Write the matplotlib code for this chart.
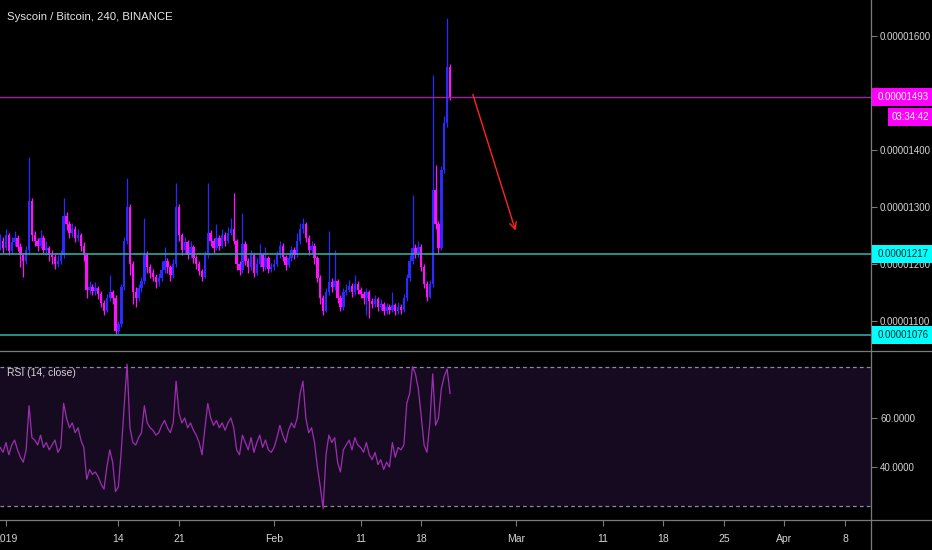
import matplotlib
matplotlib.use('Agg')
import matplotlib.pyplot as plt
import matplotlib.dates as mdates
from matplotlib.lines import Line2D
from matplotlib.patches import Rectangle
from matplotlib.transforms import blended_transform_factory
from matplotlib.ticker import FuncFormatter, FixedLocator
import numpy as np
import pandas as pd

plt.rcParams['font.family'] = ['Liberation Sans', 'DejaVu Sans']

# ~~~ data: 8h candles, prices in satoshi (1e-8 BTC) ~~~
candle_start = '2018-12-31 08:00'
first_open = 1232
closes = [1240, 1228, 1250, 1222, 1238, 1245, 1230, 1215, 1205, 1225,
          1310, 1250,
          1240, 1232, 1245, 1225, 1228, 1215, 1212, 1200, 1205, 1215,
          1285, 1270, 1255, 1262, 1245, 1250, 1232, 1215,
          1155, 1160, 1152, 1158, 1148, 1132, 1118, 1140, 1150, 1140,
          1082, 1095, 1160, 1240, 1300,
          1200, 1150, 1140, 1158, 1170,
          1215, 1195, 1185, 1178, 1168, 1175,
          1190, 1205, 1195, 1180, 1200,
          1300, 1250, 1225, 1238, 1215, 1230,
          1210, 1200, 1188, 1178, 1215, 1255,
          1240, 1228, 1245, 1232, 1250, 1240, 1255, 1262,
          1240, 1200, 1190, 1235, 1205, 1195, 1215,
          1185, 1200, 1215, 1195, 1210,
          1192, 1195, 1200, 1215, 1232, 1212, 1198,
          1210, 1225, 1215, 1240, 1262, 1270,
          1245, 1225, 1232, 1210,
          1175, 1140, 1118,
          1150, 1168, 1160, 1170, 1140, 1125, 1150,
          1155, 1162, 1150, 1165, 1155, 1148, 1140, 1150, 1135, 1130,
          1138, 1125, 1130, 1118, 1125, 1120, 1128, 1118, 1125, 1120,
          1140, 1175, 1205, 1228, 1220, 1230, 1195, 1165, 1142,
          1165, 1330, 1270, 1228, 1365, 1447, 1545, 1493]
highs = [1252, 1248, 1262, 1255, 1248, 1258, 1250, 1236, 1220, 1232,
         1388, 1315,
         1258, 1246, 1260, 1250, 1240, 1232, 1225, 1218, 1215, 1225,
         1316, 1292, 1275, 1272, 1266, 1262, 1255, 1238,
         1220, 1170, 1165, 1168, 1162, 1152, 1136, 1148, 1180, 1155,
         1145, 1100, 1165, 1248, 1351,
         1305, 1205, 1160, 1165, 1178,
         1280, 1222, 1200, 1192, 1182, 1185,
         1205, 1230, 1210, 1198, 1208,
         1342, 1305, 1255, 1248, 1242, 1240,
         1234, 1215, 1205, 1192, 1222, 1342,
         1260, 1245, 1270, 1250, 1262, 1256, 1265, 1280,
         1325, 1244, 1205, 1290, 1240, 1210, 1225,
         1220, 1210, 1235, 1220, 1230,
         1214, 1202, 1208, 1222, 1240, 1236, 1216,
         1218, 1232, 1230, 1255, 1272, 1280,
         1274, 1250, 1240, 1236,
         1214, 1180, 1145,
         1158, 1258, 1175, 1225, 1174, 1145, 1158,
         1165, 1172, 1166, 1180, 1170, 1160, 1152, 1158, 1154, 1140,
         1146, 1142, 1138, 1134, 1132, 1130, 1150, 1132, 1134, 1130,
         1148, 1182, 1215, 1321, 1235, 1240, 1235, 1200, 1170,
         1172, 1532, 1374, 1275, 1372, 1460, 1632, 1550]
lows = [1225, 1220, 1224, 1215, 1218, 1232, 1222, 1195, 1178, 1200,
        1220, 1240,
        1232, 1222, 1228, 1218, 1215, 1205, 1200, 1192, 1195, 1200,
        1210, 1260, 1245, 1248, 1238, 1240, 1222, 1205,
        1140, 1148, 1145, 1146, 1138, 1125, 1110, 1115, 1135, 1130,
        1076, 1078, 1090, 1155, 1235,
        1180, 1130, 1125, 1135, 1150,
        1165, 1185, 1175, 1170, 1158, 1162,
        1170, 1185, 1185, 1170, 1175,
        1195, 1240, 1215, 1220, 1208, 1210,
        1202, 1192, 1180, 1170, 1175, 1210,
        1232, 1220, 1224, 1225, 1228, 1232, 1236, 1250,
        1235, 1190, 1180, 1185, 1198, 1185, 1190,
        1178, 1180, 1195, 1188, 1190,
        1185, 1186, 1190, 1196, 1210, 1205, 1190,
        1194, 1205, 1208, 1212, 1235, 1255,
        1238, 1215, 1218, 1200,
        1168, 1130, 1110,
        1115, 1145, 1150, 1155, 1132, 1118, 1120,
        1145, 1150, 1142, 1146, 1148, 1140, 1130, 1110, 1105, 1122,
        1125, 1118, 1120, 1110, 1112, 1112, 1115, 1110, 1112, 1112,
        1115, 1135, 1170, 1200, 1210, 1212, 1188, 1158, 1135,
        1140, 1160, 1262, 1218, 1225, 1360, 1440, 1488]
rsi = [48, 46, 50, 45, 49, 51, 47, 44, 42, 47,
       65, 52,
       51, 49, 53, 48, 50, 47, 49, 51, 46, 48,
       66, 60, 56, 58, 54, 56, 51, 48,
       35, 39, 37, 38, 36, 33, 31, 40, 47, 42,
       30, 32, 47, 65, 82,
       56, 50, 49, 52, 54,
       65, 58, 56, 55, 53, 54,
       57, 59, 56, 54, 58,
       75, 62, 58, 60, 56, 58,
       55, 53, 50, 45, 56, 66,
       60, 57, 59, 56, 58, 55, 58, 60,
       56, 47, 45, 53, 50, 47, 52,
       46, 50, 53, 48, 51,
       47, 46, 48, 52, 57, 53, 50,
       55, 58, 56, 60, 70, 75,
       60, 54, 56, 50,
       40, 32, 23,
       45, 53, 50, 52, 42, 38, 47,
       49, 51, 47, 52, 49, 48, 46, 50, 45, 43,
       46, 41, 43, 39, 42, 40, 50, 44, 48, 47,
       49, 66, 70, 81, 78, 72, 61, 49, 46,
       58, 78, 57, 60, 72, 77, 80, 70]

level_top = 1493
level_mid = 1217
level_low = 1076
countdown = '03:34:42'
price_ticks = [1100, 1200, 1300, 1400, 1600]
rsi_ticks = [40, 60]
rsi_bands = [24, 81]

xtick_dates = ['2019-01-01', '2019-01-14', '2019-01-21', '2019-02-01', '2019-02-11',
               '2019-02-18', '2019-03-01', '2019-03-11', '2019-03-18', '2019-03-25',
               '2019-04-01', '2019-04-08']
xtick_labels = ['2019', '14', '21', 'Feb', '11', '18', 'Mar', '11', '18', '25', 'Apr', '8']

arrow_start = ('2019-02-23 21:00', 1502)
arrow_end = ('2019-03-01 00:00', 1254)

# ~~~ style ~~~
UP = '#2b2bff'
DOWN = '#ff10ff'
GRID = '#7a7a7a'
TXT = '#d4d4d4'
SCALE_FS = 7
W, H = 932, 550

fig = plt.figure(figsize=(W / 100, H / 100), dpi=100, facecolor='black')
ax_p = fig.add_axes([0, 198 / H, 871 / W, 352 / H], facecolor='black')
ax_r = fig.add_axes([0, 30 / H, 871 / W, 165 / H], facecolor='black', sharex=ax_p)

t = mdates.date2num(pd.date_range(candle_start, periods=len(closes), freq='8h'))
c = np.array(closes, dtype=float)
o = np.array([first_open] + closes[:-1], dtype=float)
up = c >= o
cols = np.where(up, UP, DOWN)

ax_p.vlines(t, lows, highs, colors=cols, lw=0.9)
ax_p.bar(t, np.maximum(np.abs(c - o), 2), bottom=np.minimum(o, c), width=0.28,
         color=cols, linewidth=0)

ax_p.axhline(level_top, color='#a0209f', lw=1)
ax_p.axhline(level_mid, color='#2ea89c', lw=1.2)
ax_p.axhline(level_low, color='#2ea89c', lw=1.2)

ax_p.annotate('', xy=(mdates.datestr2num(arrow_end[0]), arrow_end[1]),
              xytext=(mdates.datestr2num(arrow_start[0]), arrow_start[1]),
              arrowprops=dict(arrowstyle='->', color='#ff2424', lw=1, mutation_scale=12))

base = mdates.datestr2num('2019-01-01')
ax_p.set_xlim(base - 0.69, base + 100.0)
ymin, ymax = 1045.6, 1663
ax_p.set_ylim(ymin, ymax)

for a in (ax_p, ax_r):
    for s in a.spines.values():
        s.set_visible(False)
    a.yaxis.tick_right()
    a.tick_params(axis='y', colors=GRID, labelcolor=TXT, length=4, width=0.8,
                  pad=2.5, labelsize=SCALE_FS)

ax_p.yaxis.set_major_locator(FixedLocator(price_ticks))
ax_p.yaxis.set_major_formatter(FuncFormatter(lambda v, _: f'{v / 1e8:.8f}'))
ax_p.tick_params(axis='x', bottom=False, labelbottom=False)

# RSI panel
ax_r.set_ylim(18.4, 85.7)
ax_r.fill_between([base - 5, base + 110], rsi_bands[0], rsi_bands[1], color='#160a20', lw=0)
for b in rsi_bands:
    ax_r.axhline(b, color='#9088a0', lw=0.9, ls=(0, (3, 2.5)))
ax_r.plot(t, rsi, color='#9c2fb0', lw=0.9)
ax_r.set_yticks(rsi_ticks)
ax_r.set_yticklabels([f'{v:.4f}' for v in rsi_ticks])
ax_r.set_xticks(mdates.datestr2num(xtick_dates))
ax_r.set_xticklabels(xtick_labels)
ax_r.tick_params(axis='x', colors=GRID, labelcolor=TXT, length=4, width=0.8,
                 pad=6, labelsize=7.5)
ax_r.set_xlim(base - 0.69, base + 100.0)
ax_r.text(7 / 871, 1 - 18 / 165, 'RSI (14, close)', transform=ax_r.transAxes,
          color=TXT, fontsize=7.5, va='center', ha='left')

# frame lines
fig.add_artist(Line2D([871 / W, 871 / W], [0, 1], color=GRID, lw=0.9))
fig.add_artist(Line2D([0, 1], [1 - 351 / H, 1 - 351 / H], color=GRID, lw=0.9))
fig.add_artist(Line2D([0, 1], [1 - 520 / H, 1 - 520 / H], color=GRID, lw=0.9))

fig.text(7 / W, 1 - 17 / H, 'Syscoin / Bitcoin, 240, BINANCE', color='#e6e6e6',
         fontsize=8.2, va='center', ha='left')

# price labels on the scale
px = (ymax - ymin) / 352
trans = blended_transform_factory(fig.transFigure, ax_p.transData)


def scale_box(level, text, face, tcolor, x0=872, dy=0, center=False):
    y = level - dy * px
    fig.add_artist(Rectangle((x0 / W, y - 9 * px), (W - x0) / W, 18 * px,
                             transform=trans, facecolor=face, edgecolor='none',
                             zorder=5, clip_on=False))
    tx = (x0 + W) / 2 / W if center else (x0 + 6) / W
    fig.add_artist(plt.Text(tx, y, text, transform=trans, color=tcolor,
                            fontsize=SCALE_FS, va='center',
                            ha='center' if center else 'left', zorder=6))


scale_box(level_top, f'{level_top / 1e8:.8f}', '#ff00ff', 'white')
scale_box(level_top, countdown, '#ff00ff', 'white', x0=888, dy=20, center=True)
scale_box(level_mid, f'{level_mid / 1e8:.8f}', '#00ffff', '#0a2a2a')
scale_box(level_low, f'{level_low / 1e8:.8f}', '#00ffff', '#0a2a2a')

fig.savefig('out.png', dpi=100, facecolor='black')
